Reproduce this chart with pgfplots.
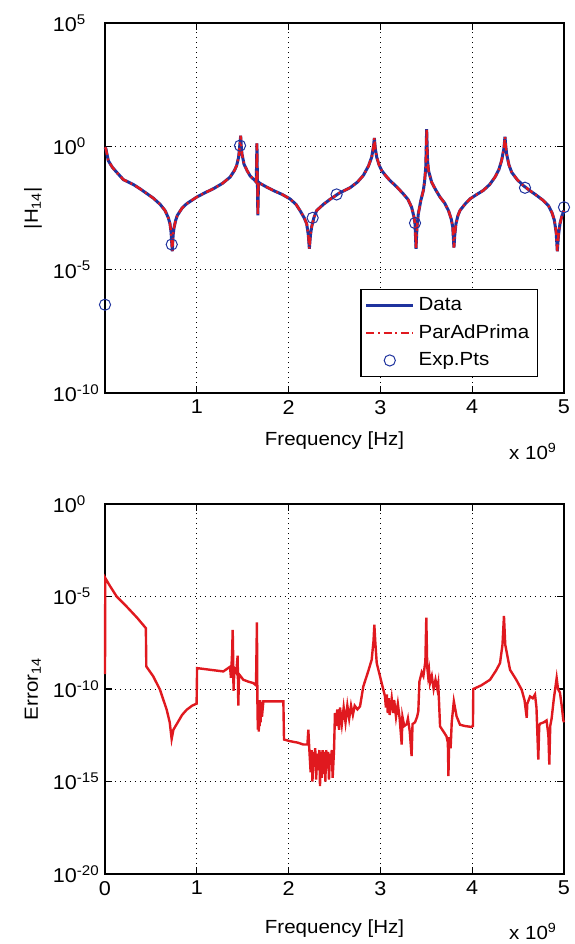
\documentclass[border=0pt]{standalone}
\usepackage{fontspec}
\setmainfont{Liberation Sans}[FakeStretch=1.08]
\usepackage{pgfplots}
\usepackage{pgfplotstable}
\pgfplotsset{compat=1.18}

\definecolor{dblue}{rgb}{0.12,0.2,0.62}
\definecolor{dred}{rgb}{0.88,0.1,0.12}

\pgfplotsset{
  lineleg/.style={legend image code/.code={\draw[##1] (0cm,0cm) -- (0.82cm,0cm);}},
  markleg/.style={legend image code/.code={\draw[##1] plot coordinates {(0.41cm,0cm)};}},
}

\pgfplotstableread{
f ly
0 -0.04
0.01 -0.1
0.036 -0.58
0.08 -0.85
0.127 -1.05
0.2 -1.35
0.31 -1.55
0.381 -1.72
0.45 -1.9
0.526 -2.1
0.6 -2.35
0.654 -2.6
0.69 -2.9
0.708 -3.14
0.72 -3.5
0.733 -4.25
0.742 -3.6
0.752 -3.3
0.77 -3.0
0.788 -2.8
0.84 -2.5
0.889 -2.33
0.998 -2.06
1.09 -1.88
1.18 -1.72
1.28 -1.5
1.362 -1.25
1.41 -0.98
1.434 -0.78
1.455 -0.45
1.463 -0.17
1.478 0.43
1.485 -0.05
1.492 -0.3
1.514 -0.72
1.55 -1.0
1.58 -1.19
1.634 -1.39
1.648 -1.45
1.655 0.12
1.66 -1.3
1.665 -2.8
1.672 -1.45
1.688 -1.5
1.76 -1.65
1.834 -1.79
1.93 -1.95
2.015 -2.13
2.08 -2.35
2.124 -2.6
2.17 -2.9
2.197 -3.14
2.215 -3.6
2.226 -4.15
2.238 -3.6
2.251 -3.27
2.275 -2.9
2.306 -2.6
2.38 -2.35
2.451 -2.15
2.55 -1.9
2.669 -1.68
2.75 -1.45
2.814 -1.18
2.87 -0.8
2.905 -0.44
2.925 0
2.934 0.34
2.945 -0.1
2.96 -0.44
2.985 -0.75
3.014 -0.98
3.06 -1.2
3.105 -1.39
3.18 -1.65
3.25 -1.93
3.3 -2.15
3.34 -2.47
3.365 -2.85
3.377 -3.14
3.388 -4.15
3.398 -3.3
3.413 -2.74
3.44 -2.2
3.468 -1.79
3.482 -1.4
3.494 -0.85
3.504 0.70
3.514 -0.6
3.525 -1.0
3.559 -1.46
3.6 -1.75
3.65 -2.06
3.7 -2.3
3.741 -2.6
3.772 -2.95
3.788 -3.27
3.801 -4.1
3.81 -3.6
3.823 -3.14
3.845 -2.8
3.867 -2.6
3.92 -2.35
3.976 -2.13
4.05 -1.95
4.12 -1.79
4.19 -1.55
4.248 -1.25
4.29 -0.95
4.32 -0.58
4.345 -0.1
4.357 0.39
4.366 0.0
4.375 -0.31
4.4 -0.75
4.43 -1.05
4.49 -1.35
4.557 -1.59
4.63 -1.8
4.702 -1.99
4.77 -2.18
4.83 -2.4
4.87 -2.7
4.895 -3.0
4.915 -3.5
4.927 -4.25
4.94 -3.6
4.956 -3.14
4.975 -2.85
5.0 -2.6
}\Hdata

\pgfplotstableread{
f ly
0 -6.42
0.727 -3.98
1.471 0.03
2.262 -2.9
2.523 -1.95
3.377 -3.11
4.575 -1.68
5.0 -2.47
}\Expdata

\pgfplotstableread{
f ly
0 -9.2
0.003 -4.0
0.05 -4.4
0.127 -5.0
0.237 -5.55
0.35 -6.15
0.445 -6.71
0.450 -8.78
0.526 -9.32
0.599 -10.04
0.672 -11.12
0.705 -11.8
0.726 -12.7
0.745 -12.2
0.781 -11.9
0.84 -11.4
0.89 -11.12
0.95 -10.9
0.998 -10.79
1.003 -8.87
1.144 -8.96
1.289 -9.05
1.362 -8.8
1.372 -9.4
1.385 -8.0
1.391 -6.8
1.397 -8.5
1.40 -10.1
1.41 -8.9
1.43 -9.1
1.445 -8.2
1.452 -10.9
1.46 -9.2
1.507 -9.5
1.56 -9.6
1.616 -9.68
1.645 -9.8
1.655 -6.4
1.66 -10.6
1.665 -12.2
1.67 -10.8
1.675 -12.3
1.68 -10.7
1.685 -12.0
1.69 -10.6
1.695 -11.8
1.70 -10.7
1.71 -11.5
1.725 -10.67
1.943 -10.67
1.95 -12.73
2.015 -12.82
2.10 -12.9
2.16 -13.0
2.205 -13.0
2.215 -12.2
2.225 -13.2
2.24 -14.5
2.25 -13.3
2.26 -15.0
2.27 -13.4
2.28 -14.2
2.29 -13.2
2.30 -14.9
2.31 -13.5
2.32 -14.4
2.335 -13.3
2.342 -15.25
2.35 -13.4
2.36 -14.8
2.37 -13.3
2.38 -14.6
2.39 -13.4
2.40 -15.0
2.41 -13.3
2.42 -14.3
2.43 -13.4
2.44 -14.9
2.45 -13.5
2.46 -14.1
2.47 -13.3
2.48 -14.8
2.495 -13.3
2.505 -11.3
2.52 -12.0
2.53 -11.1
2.55 -12.2
2.56 -11.0
2.58 -11.9
2.60 -11.0
2.62 -11.8
2.64 -10.9
2.66 -11.6
2.68 -10.9
2.70 -11.4
2.72 -10.9
2.75 -11.1
2.778 -10.94
2.814 -9.86
2.87 -9.0
2.905 -8.42
2.925 -7.4
2.934 -6.53
2.945 -7.5
2.96 -8.6
2.996 -9.32
3.03 -10.0
3.05 -10.4
3.06 -11.0
3.07 -10.3
3.08 -11.3
3.09 -10.5
3.10 -11.4
3.123 -10.5
3.14 -11.3
3.15 -10.6
3.17 -11.5
3.19 -10.8
3.21 -11.6
3.232 -13.0
3.24 -11.5
3.26 -12.0
3.286 -11.9
3.30 -11.6
3.32 -12.3
3.34 -13.63
3.35 -11.9
3.377 -11.8
3.40 -11.5
3.413 -11.2
3.425 -9.6
3.45 -9.1
3.468 -9.3
3.49 -8.5
3.50 -6.14
3.51 -8.8
3.52 -9.3
3.53 -9.0
3.54 -9.68
3.56 -9.3
3.58 -10.0
3.60 -9.5
3.62 -10.0
3.63 -9.7
3.65 -12.02
3.70 -12.4
3.72 -12.56
3.735 -12.9
3.741 -14.71
3.75 -12.6
3.765 -13.2
3.777 -11.8
3.80 -10.67
3.83 -11.48
3.867 -11.93
3.92 -12.0
3.99 -12.05
4.008 -12.0
4.012 -10.0
4.10 -9.8
4.194 -9.5
4.26 -9.0
4.303 -8.6
4.33 -7.6
4.346 -6.05
4.36 -7.6
4.412 -8.96
4.48 -9.5
4.539 -10.04
4.57 -10.6
4.594 -11.56
4.60 -10.8
4.63 -10.4
4.66 -10.5
4.684 -10.3
4.70 -11.0
4.72 -13.81
4.73 -12.0
4.738 -11.88
4.78 -11.8
4.81 -11.7
4.83 -12.5
4.84 -14.08
4.85 -12.0
4.865 -11.6
4.89 -10.5
4.92 -9.41
4.935 -10.0
4.956 -10.2
4.975 -10.9
4.993 -11.7
5.0 -11.8
}\Edata

\pgfplotsset{myax/.style={
  scale only axis, width=229.5pt, height=185pt,
  xmin=0, xmax=5,
  grid=major,
  major grid style={black, line width=0.45pt, dash pattern=on 0.6pt off 1.9pt},
  axis line style={line width=0.75pt},
  every tick/.style={black, line width=0.6pt},
  tick align=inside, major tick length=3.5pt,
  tick label style={font=\fontsize{10}{12}\selectfont},
  label style={font=\fontsize{9.5}{11}\selectfont},
  /pgf/number format/assume math mode=true,
  yticklabel style={xshift=-10.5pt},
  ylabel style={at={(axis description cs:-0.157,0.5)}, anchor=center},
  xlabel style={at={(axis description cs:0.5,-0.142)}, anchor=base},
  xlabel={Frequency [Hz]},
}}

\begin{document}
\begin{tikzpicture}
\path[use as bounding box] (0,0) rectangle (287pt,472pt);

\begin{axis}[ymode=log, myax, at={(52.5pt,275.5pt)}, anchor=south west,
  ymin=1e-10, ymax=1e5,
  ytick={1e-10,1e-5,1,1e5},
  minor ytick={},
  yticklabels={10\rlap{\textsuperscript{-10}},10\rlap{\textsuperscript{-5}},10\rlap{\textsuperscript{0}},10\rlap{\textsuperscript{5}}},
  xtick={1,2,3,4,5},
  ylabel={|H\textsubscript{14}|},
  clip=false,
  legend style={at={(rel axis cs:0.943,0.043)}, anchor=south east,
    draw=black, line width=0.6pt, font=\fontsize{9.5}{11}\selectfont,
    inner xsep=2pt, inner ysep=2pt, row sep=1.5pt, cells={anchor=west}},
]
\addplot[dblue, line width=1.5pt, lineleg] table[x=f, y expr={10^(\thisrow{ly})}] {\Hdata};
\addlegendentry{Data}
\addplot[dred, line width=1.2pt, dash pattern=on 4pt off 1.8pt on 1pt off 1.8pt, lineleg] table[x=f, y expr={10^(\thisrow{ly})}] {\Hdata};
\addlegendentry{ParAdPrima}
\addplot[only marks, mark=o, mark size=2.8pt, dblue, line width=0.5pt, markleg]
  table[x=f, y expr={10^(\thisrow{ly})}] {\Expdata};
\addlegendentry{Exp.Pts}
\node[anchor=base east, font=\fontsize{9.5}{11}\selectfont] at (rel axis cs:1.0,-0.181) {x 10\textsuperscript{9}};
\end{axis}

\begin{axis}[ymode=log, myax, at={(52.5pt,35pt)}, anchor=south west,
  ymin=1e-20, ymax=1,
  ytick={1e-20,1e-15,1e-10,1e-5,1},
  minor ytick={},
  yticklabels={10\rlap{\textsuperscript{-20}},10\rlap{\textsuperscript{-15}},10\rlap{\textsuperscript{-10}},10\rlap{\textsuperscript{-5}},10\rlap{\textsuperscript{0}}},
  xtick={0,1,2,3,4,5},
  xticklabels={0,1,2,3,4,5},
  ylabel={Error\textsubscript{14}},
  clip=false,
  xlabel style={at={(axis description cs:0.5,-0.16)}, anchor=base},
]
\addplot[dred, line width=1.2pt] table[x=f, y expr={10^(\thisrow{ly})}] {\Edata};
\node[anchor=base east, font=\fontsize{9.5}{11}\selectfont] at (rel axis cs:1.0,-0.178) {x 10\textsuperscript{9}};
\end{axis}
\end{tikzpicture}
\end{document}
